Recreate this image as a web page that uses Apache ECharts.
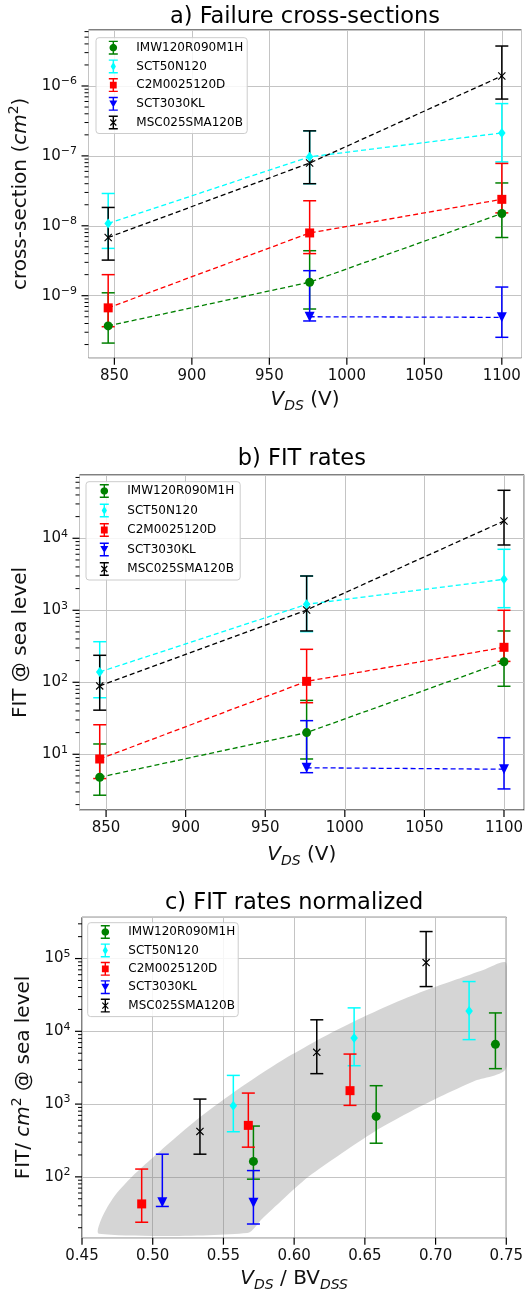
<!DOCTYPE html>
<html>
<head>
<meta charset="utf-8">
<title>Failure cross-sections and FIT rates</title>
<script src="https://cdn.jsdelivr.net/npm/echarts@6/dist/echarts.min.js"></script>
<style>
  html, body { margin: 0; padding: 0; background: #fff; }
  #chart { width: 530px; height: 1292px; }
</style>
</head>
<body>
<div id="chart"></div>
<script>
// device names, in legend order
const devices = ['IMW120R090M1H', 'SCT50N120', 'C2M0025120D', 'SCT3030KL', 'MSC025SMA120B'];
const colors = ['#008000', '#00ffff', '#ff0000', '#0000ff', '#000000'];

// V_DS (V) used in panels a and b
const vdsThree = [846, 976, 1100];
const vdsTwo = [976, 1100];

// a) failure cross-section (cm^2): value, lower and upper error
const xsecIMW = [3.7e-10, 1.56e-9, 1.5e-8];
const xsecIMWLow = [2.1e-10, 6.45e-10, 6.8e-9];
const xsecIMWHigh = [1.1e-9, 4.4e-9, 4.1e-8];
const xsecSCT50 = [1.08e-8, 9.7e-8, 2.13e-7];
const xsecSCT50Low = [4.75e-9, 4.0e-8, 8.2e-8];
const xsecSCT50High = [2.9e-8, 2.28e-7, 5.6e-7];
const xsecC2M = [6.7e-10, 7.9e-9, 2.39e-8];
const xsecC2MLow = [3.6e-10, 4.0e-9, 1.53e-8];
const xsecC2MHigh = [2.0e-9, 2.28e-8, 7.8e-8];
const xsecSCT30 = [5.0e-10, 4.9e-10];
const xsecSCT30Low = [4.35e-10, 2.54e-10];
const xsecSCT30High = [2.28e-9, 1.33e-9];
const xsecMSC = [6.8e-9, 7.9e-8, 1.39e-6];
const xsecMSCLow = [3.23e-9, 4.0e-8, 6.5e-7];
const xsecMSCHigh = [1.83e-8, 2.28e-7, 3.73e-6];

// b) FIT @ sea level
const fitIMW = [4.8, 20, 193];
const fitIMWLow = [2.7, 8.6, 88];
const fitIMWHigh = [13.9, 56, 516];
const fitSCT50 = [139, 1211, 2693];
const fitSCT50Low = [61, 505, 1087];
const fitSCT50High = [366, 2993, 7030];
const fitC2M = [8.6, 103, 306];
const fitC2MLow = [4.6, 52, 195];
const fitC2MHigh = [25.7, 287, 1000];
const fitSCT30 = [6.5, 6.2];
const fitSCT30Low = [5.55, 3.3];
const fitSCT30High = [29.3, 17];
const fitMSC = [89, 1009, 17400];
const fitMSCLow = [41, 516, 8070];
const fitMSCHigh = [237, 2993, 46400];

// c) FIT / cm^2 against V_DS / BV_DSS
const ratioIMW = [0.5712, 0.658, 0.7423];
const normIMW = [163, 678, 6620];
const normIMWLow = [93, 290, 3070];
const normIMWHigh = [499, 1790, 17900];
const ratioSCT50 = [0.557, 0.6424, 0.7237];
const normSCT50 = [950, 8110, 19100];
const normSCT50Low = [417, 3370, 7690];
const normSCT50High = [2480, 21000, 48300];
const ratioC2M = [0.4922, 0.5676, 0.6395];
const normC2M = [42.5, 510, 1530];
const normC2MLow = [23.8, 256, 960];
const normC2MHigh = [128, 1417, 4870];
const ratioSCT30 = [0.5068, 0.5712];
const normSCT30 = [44.9, 44];
const normSCT30Low = [39.2, 22.5];
const normSCT30High = [205, 122];
const ratioMSC = [0.5334, 0.616, 0.6933];
const normMSC = [421, 5140, 88100];
const normMSCLow = [205, 2620, 41200];
const normMSCHigh = [1172, 14400, 235000];

// grey trend band in panel c (upper edge left->right, lower edge right->left)
const bandUpperX = [0.462, 0.4643, 0.4725, 0.4841, 0.4981, 0.5168, 0.5354, 0.5564, 0.5774, 0.5984, 0.6217, 0.6451, 0.6684, 0.6917, 0.715, 0.7337, 0.75];
const bandUpperY = [16.5, 28, 53, 95, 170, 356, 710, 1413, 2673, 4786, 8570, 14550, 23440, 35810, 51880, 69820, 86300];
const bandLowerX = [0.75, 0.7267, 0.7034, 0.68, 0.6567, 0.6334, 0.61, 0.5914, 0.5774, 0.5669];
const bandLowerY = [3133, 2051, 1271, 748, 418, 210, 100, 47.6, 26.6, 16.9];

// major tick positions
const xTicksVds = [850, 900, 950, 1000, 1050, 1100];
const xTicksRatio = [0.45, 0.5, 0.55, 0.6, 0.65, 0.7, 0.75];
const yTicksXsec = [1e-9, 1e-8, 1e-7, 1e-6];
const yTicksFit = [1e1, 1e2, 1e3, 1e4];
const yTicksNorm = [1e2, 1e3, 1e4, 1e5];

// panel titles and axis extents
const titles = ['a) Failure cross-sections', 'b) FIT rates', 'c) FIT rates normalized'];
const yMinExp = [-9.887, 0.226, 1.164];
const yMaxExp = [-5.199, 4.879, 5.567];

const FONT = 'DejaVu Sans';

/**
 * polygon path, always wound the same way so sub-paths merge
 */
function ring(points) {
    let area = 0;
    for (let i = 0; i < points.length; i++) {
        const p = points[i], q = points[(i + 1) % points.length];
        area += p[0] * q[1] - q[0] * p[1];
    }
    const pts = area < 0 ? points.slice().reverse() : points;
    return 'M' + pts.map(p => p[0].toFixed(2) + ',' + p[1].toFixed(2)).join('L') + 'Z';
}

function bar(x1, y1, x2, y2, w) {
    const len = Math.hypot(x2 - x1, y2 - y1);
    const nx = -(y2 - y1) / len * w, ny = (x2 - x1) / len * w;
    return [[x1 + nx, y1 + ny], [x2 + nx, y2 + ny], [x2 - nx, y2 - ny], [x1 - nx, y1 - ny]];
}

function circlePts(cx, cy, r) {
    const pts = [];
    for (let i = 0; i < 20; i++) {
        const a = i / 20 * Math.PI * 2;
        pts.push([cx + r * Math.cos(a), cy + r * Math.sin(a)]);
    }
    return pts;
}

// marker shapes inside a 14x14 legend box
const markerShapes = [
    circlePts(7, 7, 3.8),
    [[7, 2.4], [9.6, 7], [7, 11.6], [4.4, 7]],
    [[3.6, 3.6], [10.4, 3.6], [10.4, 10.4], [3.6, 10.4]],
    [[3, 3.6], [11, 3.6], [7, 10.6]],
    null
];
const ICON_W = 25;

/**
 * legend icon: error bar + marker, with an invisible speck at the right
 * so that the text sits further from the glyph
 */
function legendIcon(i) {
    let d = 'M0,0L0.01,0L0,0.01Z' +
        ring([[2.5, 0], [11.5, 0], [11.5, 1.4], [2.5, 1.4]]) +
        ring([[2.5, 12.6], [11.5, 12.6], [11.5, 14], [2.5, 14]]) +
        ring([[6.3, 0], [7.7, 0], [7.7, 14], [6.3, 14]]);
    if (markerShapes[i]) {
        d += ring(markerShapes[i]);
    } else {
        d += ring(bar(4, 4, 10, 10, 0.6)) + ring(bar(4, 10, 10, 4, 0.6));
    }
    d += 'M' + ICON_W + ',14L' + (ICON_W - 0.01) + ',14L' + ICON_W + ',13.99Z';
    return 'path://' + d;
}

const crossSymbol = 'path://' + ring(bar(0, 0, 10, 10, 0.8)) + ring(bar(0, 10, 10, 0, 0.8));
const markerSymbols = ['circle', 'diamond', 'rect', 'triangle', crossSymbol];
const markerSizes = [9, [7.5, 10], 9, 10, 8];
const markerRotate = [0, 0, 0, 180, 0];

/**
 * error bar with caps
 */
function errorBarRenderer(color) {
    return function (params, api) {
        const x = api.value(0);
        const top = api.coord([x, api.value(3)]);
        const bottom = api.coord([x, api.value(2)]);
        const cap = 6.5;
        const style = { stroke: color, lineWidth: 1.5 };
        return {
            type: 'group',
            children: [
                { type: 'line', shape: { x1: top[0], y1: top[1], x2: bottom[0], y2: bottom[1] }, style: style },
                { type: 'line', shape: { x1: top[0] - cap, y1: top[1], x2: top[0] + cap, y2: top[1] }, style: style },
                { type: 'line', shape: { x1: bottom[0] - cap, y1: bottom[1], x2: bottom[0] + cap, y2: bottom[1] }, style: style }
            ]
        };
    };
}

/**
 * markers, error bars and (optional) dashed trend lines for one panel
 */
function deviceSeries(panel, xs, ys, lows, highs, withLine) {
    const list = [];
    devices.forEach((dev, i) => {
        const pts = xs[i].map((x, j) => [x, ys[i][j]]);
        if (withLine) {
            list.push({
                type: 'line', name: dev + ' trend', xAxisIndex: panel, yAxisIndex: panel,
                data: pts, symbol: 'none', silent: true, z: 2,
                lineStyle: { color: colors[i], width: 1.3, type: [5, 3] },
                emphasis: { disabled: true }
            });
        }
        list.push({
            type: 'custom', name: dev + ' error', xAxisIndex: panel, yAxisIndex: panel,
            data: xs[i].map((x, j) => [x, ys[i][j], lows[i][j], highs[i][j]]),
            encode: { x: 0, y: 1 }, renderItem: errorBarRenderer(colors[i]), silent: true, z: 3
        });
        list.push({
            type: 'scatter', name: dev, xAxisIndex: panel, yAxisIndex: panel, data: pts,
            symbol: markerSymbols[i], symbolSize: markerSizes[i], symbolRotate: markerRotate[i],
            itemStyle: { color: colors[i], opacity: 1 }, silent: true, z: 4
        });
    });
    return list;
}

/**
 * outward ticks: majors on both axes, log minors (2..9) on the y axis
 */
function axisTicks(panel, xMin, xTicks, yTicks) {
    const data = [];
    const yMin = Math.pow(10, yMinExp[panel]), yMax = Math.pow(10, yMaxExp[panel]);
    xTicks.forEach(v => data.push([v, yMin, 0]));
    yTicks.forEach(v => data.push([xMin, v, 1]));
    for (let d = Math.floor(yMinExp[panel]); d <= Math.ceil(yMaxExp[panel]); d++) {
        for (let k = 2; k <= 9; k++) {
            const v = k * Math.pow(10, d);
            if (v > yMin && v < yMax) data.push([xMin, v, 2]);
        }
    }
    return {
        type: 'custom', xAxisIndex: panel, yAxisIndex: panel, data: data, silent: true, z: 5,
        encode: { x: 0, y: 1 },
        renderItem: function (params, api) {
            const c = api.coord([api.value(0), api.value(1)]);
            const kind = api.value(2);
            if (kind === 0) {
                return { type: 'line', shape: { x1: c[0], y1: c[1], x2: c[0], y2: c[1] + 7 }, style: { stroke: '#000', lineWidth: 1.2 } };
            }
            const len = kind === 1 ? 7 : 4;
            return { type: 'line', shape: { x1: c[0] - len, y1: c[1], x2: c[0], y2: c[1] }, style: { stroke: '#000', lineWidth: kind === 1 ? 1.2 : 1 } };
        }
    };
}

function logLabel(v) {
    const e = Math.log10(v);
    const r = Math.round(e);
    if (Math.abs(e - r) > 1e-6) return '';
    return '{b|10}{s|' + (r < 0 ? '\u2212' + (-r) : r) + '}';
}

const tickRich = {
    b: { fontSize: 15, lineHeight: 20, color: '#111', fontFamily: FONT },
    s: { fontSize: 11, lineHeight: 12, color: '#111', fontFamily: FONT, verticalAlign: 'top' }
};
const nameRich = {
    n: { fontSize: 20, lineHeight: 26, color: '#111', fontFamily: FONT },
    i: { fontSize: 20, lineHeight: 26, color: '#111', fontFamily: FONT, fontStyle: 'italic' },
    s: { fontSize: 14, lineHeight: 16, color: '#111', fontFamily: FONT, verticalAlign: 'top' },
    d: { fontSize: 14, lineHeight: 14, color: '#111', fontFamily: FONT, fontStyle: 'italic', verticalAlign: 'bottom' }
};

const grids = [
    { left: 88.5, top: 30, width: 433, height: 327.7 },
    { left: 79.5, top: 475, width: 444.7, height: 335 },
    { left: 82, top: 917.3, width: 424.3, height: 320.4 }
];
const xMins = [833.3, 833.3, 0.45];
const xMaxs = [1112.7, 1112.7, 0.75];
const xNames = ['{i|V}{d|DS}{n| (V)}', '{i|V}{d|DS}{n| (V)}', '{i|V}{d|DS}{n| / BV}{d|DSS}'];
const xNameGaps = [29.5, 32, 28.5];
const yNames = ['{n|cross-section (}{i|cm}{s|2}{n|)}', '{n|FIT @ sea level}', '{n|FIT/ }{i|cm}{s|2}{n| @ sea level}'];
const yNameGaps = [49, 44.5, 44];
const legendPos = [
    { left: 96, top: 37.7, gap: 4.7, pad: [3, 4, 4, 10.3] },
    { left: 86, top: 481.7, gap: 5.5, pad: [2.3, 6, 4, 11.3] },
    { left: 87.7, top: 922.7, gap: 4.4, pad: [2.3, 3, 4, 10.6] }
];

const xAxes = grids.map((g, p) => ({
    type: 'value', gridIndex: p, min: xMins[p], max: xMaxs[p],
    interval: p === 2 ? 0.05 : undefined,
    axisLine: { show: false },
    axisTick: { show: false },
    axisLabel: {
        margin: 10.5, color: '#111', fontSize: 15, fontFamily: FONT, hideOverlap: false,
        formatter: p === 2 ? (v => v.toFixed(2)) : (v => (Math.abs(v % 50) < 1e-6 ? String(v) : ''))
    },
    splitLine: { show: true, lineStyle: { color: '#c4c4c4', width: 1 } },
    name: xNames[p], nameLocation: 'middle', nameGap: xNameGaps[p],
    nameTextStyle: { rich: nameRich }
}));

const yAxes = grids.map((g, p) => ({
    type: 'log', logBase: 10, gridIndex: p,
    min: Math.pow(10, yMinExp[p]), max: Math.pow(10, yMaxExp[p]),
    axisLine: { show: false },
    axisTick: { show: false },
    minorTick: { show: false },
    axisLabel: { margin: 11.5, formatter: logLabel, rich: tickRich, hideOverlap: false },
    splitLine: { show: true, lineStyle: { color: '#c4c4c4', width: 1 } },
    name: yNames[p], nameLocation: 'middle', nameGap: yNameGaps[p], nameRotate: 90,
    nameTextStyle: { rich: nameRich }
}));

const legends = legendPos.map((l, p) => ({
    orient: 'vertical', left: l.left, top: l.top, padding: l.pad, itemGap: l.gap,
    itemWidth: ICON_W, itemHeight: 14, symbolKeepAspect: true,
    backgroundColor: 'rgba(255,255,255,0.85)', borderColor: '#cccccc', borderWidth: 1, borderRadius: 3,
    selectedMode: false,
    textStyle: { fontSize: 12, fontFamily: FONT, color: '#000' },
    data: devices.map((d, i) => ({ name: d, icon: legendIcon(i), itemStyle: { color: colors[i], borderWidth: 0 } }))
}));

const titleGraphics = titles.map((t, p) => ({
    type: 'text', x: grids[p].left + grids[p].width / 2, y: [16.7, 459.3, 903.3][p], silent: true,
    style: { text: t, fill: '#000', fontSize: 22.5, fontFamily: FONT, align: 'center', verticalAlign: 'middle', textAlign: 'center', textVerticalAlign: 'middle' }
}));

// band polygon through the panel-c scales
const bandSeries = {
    type: 'custom', xAxisIndex: 2, yAxisIndex: 2, silent: true, z: 1, clip: true,
    data: [[0.6, 1000]], encode: { x: 0, y: 1 },
    renderItem: function (params, api) {
        const pts = bandUpperX.map((x, i) => api.coord([x, bandUpperY[i]]))
            .concat(bandLowerX.map((x, i) => api.coord([x, bandLowerY[i]])));
        return { type: 'polygon', shape: { points: pts, smooth: 0.25 }, style: { fill: 'rgba(128,128,128,0.33)' } };
    }
};

const series = [bandSeries]
    .concat(deviceSeries(0, [vdsThree, vdsThree, vdsThree, vdsTwo, vdsThree],
        [xsecIMW, xsecSCT50, xsecC2M, xsecSCT30, xsecMSC],
        [xsecIMWLow, xsecSCT50Low, xsecC2MLow, xsecSCT30Low, xsecMSCLow],
        [xsecIMWHigh, xsecSCT50High, xsecC2MHigh, xsecSCT30High, xsecMSCHigh], true))
    .concat(deviceSeries(1, [vdsThree, vdsThree, vdsThree, vdsTwo, vdsThree],
        [fitIMW, fitSCT50, fitC2M, fitSCT30, fitMSC],
        [fitIMWLow, fitSCT50Low, fitC2MLow, fitSCT30Low, fitMSCLow],
        [fitIMWHigh, fitSCT50High, fitC2MHigh, fitSCT30High, fitMSCHigh], true))
    .concat(deviceSeries(2, [ratioIMW, ratioSCT50, ratioC2M, ratioSCT30, ratioMSC],
        [normIMW, normSCT50, normC2M, normSCT30, normMSC],
        [normIMWLow, normSCT50Low, normC2MLow, normSCT30Low, normMSCLow],
        [normIMWHigh, normSCT50High, normC2MHigh, normSCT30High, normMSCHigh], false))
    .concat([
        axisTicks(0, xMins[0], xTicksVds, yTicksXsec),
        axisTicks(1, xMins[1], xTicksVds, yTicksFit),
        axisTicks(2, xMins[2], xTicksRatio, yTicksNorm)
    ]);

const chart = echarts.init(document.getElementById('chart'));
chart.setOption({
    animation: false,
    backgroundColor: '#fff',
    textStyle: { fontFamily: FONT },
    grid: grids.map(g => Object.assign({ show: true, borderColor: '#000', borderWidth: 1, backgroundColor: 'transparent', outerBoundsMode: 'none' }, g)),
    xAxis: xAxes,
    yAxis: yAxes,
    legend: legends,
    graphic: titleGraphics,
    series: series
});
</script>
</body>
</html>
